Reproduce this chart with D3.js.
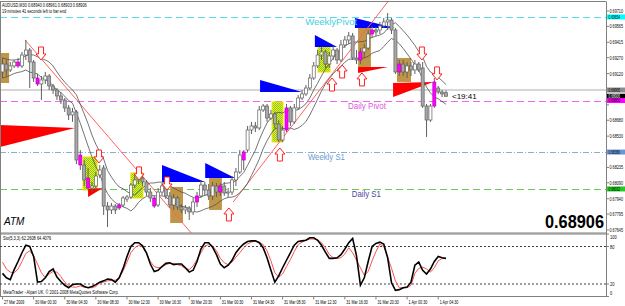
<!DOCTYPE html>
<html>
<head>
<meta charset="utf-8">
<script src="https://cdn.jsdelivr.net/npm/d3@7"></script>
<style>
  body { margin: 0; background: #fff; }
  svg { display: block; font-family: "Liberation Sans", Arial, sans-serif; }
</style>
</head>
<body>
<svg id="chart" width="625" height="306"></svg>
<script>
// AUDUSD M30 candles, prices in points (1e-5)
var open = [69135,69210,69154,69192,69229,69192,69295,69342,69229,69078,
  69022,69060,69097,69003,68965,68909,68871,68796,68730,68758,
  68352,68258,68135,68041,68060,68164,68230,67871,67834,67871,
  67853,67881,67937,67956,68069,68117,68135,68098,68003,67947,
  67881,68003,68060,67966,67881,67947,67862,67834,67853,67815,
  67909,67966,68069,68022,67966,68060,68003,68060,67994,68003,
  68117,68192,68305,68399,68588,68626,68607,68777,68814,68701,
  68739,68645,68494,68588,68796,68664,68796,68890,68928,68984,
  69078,69192,69295,69324,69210,69286,69342,69248,69390,69437,
  69475,69267,69248,69324,69361,69493,69531,69531,69569,69607,
  69625,69531,69135,69210,69135,69192,69154,69210,69173,68814,
  68682,68814,68984,68946,68940];
var high = [69267,69248,69229,69248,69267,69324,69437,69361,69248,69116,
  69097,69135,69116,69022,68984,68946,68890,68824,68796,68777,
  68399,68305,68230,68098,68192,68258,68258,67909,67900,67890,
  67900,67966,67975,68088,68173,68183,68164,68117,68041,67966,
  68041,68088,68079,68003,67985,67966,67890,67881,67871,67947,
  68003,68117,68098,68079,68098,68088,68088,68098,68041,68154,
  68230,68399,68399,68626,68664,68664,68814,68833,68833,68777,
  68758,68682,68626,68833,68814,68833,68918,68965,69012,69116,
  69229,69342,69371,69342,69324,69380,69361,69437,69475,69512,
  69503,69342,69361,69399,69531,69569,69559,69607,69644,69691,
  69644,69550,69248,69248,69229,69229,69248,69229,69229,68833,
  68833,69078,69003,68965,68961];
var low = [69078,69097,69135,69173,69173,69173,69248,68984,69041,69003,
  68871,69022,68965,68928,68871,68833,68758,68682,68664,68267,
  68211,68060,68022,68003,68022,68135,67787,67673,67796,67796,
  67834,67862,67909,67937,68041,68079,68060,67966,67909,67853,
  67862,67975,67937,67853,67834,67834,67805,67796,67739,67787,
  67862,67947,67966,67928,67928,67956,67966,67966,67956,67975,
  68060,68173,68211,68381,68550,68569,68588,68758,68664,68682,
  68607,68475,68475,68569,68626,68645,68777,68871,68909,68965,
  69060,69173,69248,69173,69173,69248,69210,69229,69361,69399,
  69248,69210,69210,69267,69342,69456,69475,69493,69550,69531,
  69493,69116,69097,69097,69078,69097,69116,69135,68796,68522,
  68664,68796,68928,68899,68903];
var close = [69210,69154,69192,69229,69192,69295,69342,69229,69078,69022,
  69060,69097,69003,68965,68909,68871,68796,68730,68758,68305,
  68258,68117,68041,68060,68154,68211,67871,67834,67871,67834,
  67881,67947,67956,68069,68117,68145,68098,68003,67947,67871,
  68003,68060,67966,67881,67947,67862,67834,67853,67815,67909,
  67966,68069,68022,67966,68060,68003,68060,67994,68003,68117,
  68192,68352,68381,68588,68626,68607,68777,68814,68701,68739,
  68645,68494,68588,68796,68664,68796,68890,68928,68984,69078,
  69192,69295,69324,69210,69286,69342,69248,69390,69437,69475,
  69267,69248,69324,69361,69493,69531,69512,69569,69607,69625,
  69531,69135,69210,69135,69192,69154,69210,69154,68814,68682,
  68814,69041,68946,68928,68906];
// bars painted magenta by the signal indicator
var magentaBars = [4, 9, 20, 22, 30, 39, 50, 56, 62, 73, 92, 95, 102, 111];

// Stochastic(5,3,3)
var stochMain = [37,30,27,43,56,70,82,80,64,23,
  24,30,40,44,31,24,18,14,19,20,
  20,16,14,16,19,23,25,28,27,23,
  30,45,64,80,86,86,81,70,52,40,
  42,48,53,54,51,52,52,46,39,42,
  56,76,86,86,79,67,52,46,50,58,
  70,78,84,88,89,89,86,78,62,42,
  23,33,46,58,70,82,88,89,90,94,
  94,90,82,71,61,61,62,67,76,86,
  93,65,18,30,56,80,85,87,84,62,
  22,10,11,14,15,23,50,55,42,36,
  44,56,64,62,61];
var stochSignal = [55,44,39,38,44,56,69,73,65,52,
  38,30,36,40,39,32,23,17,15,15,
  17,15,14,14,16,22,23,25,26,26,
  30,41,55,70,78,82,79,69,56,48,
  46,47,51,53,53,51,49,45,43,49,
  59,70,81,83,81,73,61,54,51,55,
  63,70,78,84,87,89,87,83,73,57,
  38,31,36,48,59,72,83,87,90,92,
  92,91,86,78,67,62,61,62,68,78,
  70,58,46,34,40,57,72,84,80,63,
  45,25,14,14,14,18,37,45,47,44,
  39,46,57,61,61];

var timeLabels = ["27 Mar 2009", "30 Mar 00:30", "30 Mar 04:30", "30 Mar 08:30", "30 Mar 12:30",
  "30 Mar 16:30", "30 Mar 20:30", "31 Mar 00:30", "31 Mar 04:30", "31 Mar 08:30",
  "31 Mar 12:30", "31 Mar 16:30", "31 Mar 20:30", "1 Apr 00:30", "1 Apr 04:30"];
var priceTicks = [69710, 69565, 69415, 69270, 69120, 68975, 68825, 68680, 68530, 68385,
  68235, 68090, 67940, 67795, 67645];
var stochTicks = [100, 80, 20, 0];

// pivot levels
var levelNames = ["WeeklyPivot", "Daily Pivot", "Weekly S1", "Daily S1"];
var levelPrices = [69654, 68866, 68380, 68032];
var askPrice = 68965, bidPrice = 68906;

// zone boxes: [firstBar, lastBar, top, bottom]
var brownBoxes = [[-0.6, 1.7, 69314, 69031], [43.1, 46.4, 68051, 67711], [53.1, 56.4, 68135, 67834],
  [91.4, 94.7, 69559, 69182], [101.4, 105.0, 69267, 69041]];
var greenBoxes = [[20.7, 24.3, 68333, 68022], [33.0, 36.1, 68183, 67947], [69.3, 72.1, 68852, 68475],
  [81.1, 84.2, 69371, 69135]];
// red wedges: [startBar, endBar, top, tip, bottom]
var redWedges = [[-0.7, 18.6, 68635, 68607, 68428], [22.0, 25.8, 68032, 68041, 67956],
  [91.4, 99.1, 69182, 69182, 69126], [100.4, 110.7, 69031, 69041, 68899]];
// blue wedges: [startBar, endBar, top, bottom]
var blueWedges = [[41.0, 52.1, 68258, 68098], [52.1, 59.8, 68277, 68135], [66.2, 77.0, 69060, 68946],
  [80.3, 86.0, 69484, 69371], [90.6, 100.9, 69644, 69550]];
// arrows: [bar, tip price]
var downArrows = [[9.9, 69248], [24.8, 68277], [35.1, 68117], [42.3, 68022], [107.8, 69248], [111.7, 69060]];
var upArrows = [[58.2, 67853], [71.3, 68418], [84.7, 69078], [87.3, 69201], [92.4, 69126]];
// trend lines: [bar1, price1, bar2, price2]
var trendLines = [[5.8, 69437, 48.5, 67617], [59.3, 67909, 99.4, 69814]];

var svg = d3.select("#chart");
var plotRight = 606, mainTop = 2, mainBottom = 233, stoTop = 234, stoBottom = 296.5;

var x = d3.scaleLinear().domain([0, 114]).range([2.5, 446]);
var y = d3.scaleLinear().domain([67645, 69710]).range([230, 11]);
var ys = d3.scaleLinear().domain([0, 100]).range([stoBottom, stoTop]);
var fmt = function(p) { return (p / 100000).toFixed(5); };

// the terminal's small font is narrow, squeeze the tiny labels
function narrow(sel, k) {
  sel.each(function() {
    var w = this.getComputedTextLength();
    d3.select(this).attr("textLength", w * k).attr("lengthAdjust", "spacingAndGlyphs");
  });
}

var defs = svg.append("defs");
defs.append("clipPath").attr("id", "mainClip").append("rect")
  .attr("x", 0).attr("y", mainTop).attr("width", plotRight).attr("height", mainBottom - mainTop);
var pat = defs.append("pattern").attr("id", "hatch").attr("width", 2).attr("height", 2)
  .attr("patternUnits", "userSpaceOnUse");
pat.append("rect").attr("width", 2).attr("height", 2).attr("fill", "#f4f000");
pat.append("rect").attr("width", 1).attr("height", 1).attr("fill", "#7cc840");
pat.append("rect").attr("x", 1).attr("y", 1).attr("width", 1).attr("height", 1).attr("fill", "#7cc840");

svg.append("rect").attr("width", 625).attr("height", 306).attr("fill", "#fff");

var main = svg.append("g").attr("clip-path", "url(#mainClip)");

// level lines
var levelColors = ["#55dde8", "#ee66ee", "#8aaed0", "#66cc55"];
var levelDash = ["7,4", "7,4", "6,2,1,2", "7,4"];
main.selectAll("line.level").data(levelPrices).enter().append("line")
  .attr("x1", 0).attr("x2", plotRight)
  .attr("y1", function(d) { return Math.round(y(d)) + 0.5; })
  .attr("y2", function(d) { return Math.round(y(d)) + 0.5; })
  .attr("stroke", function(d, i) { return levelColors[i]; })
  .attr("stroke-dasharray", function(d, i) { return levelDash[i]; });
main.append("line").attr("x1", 0).attr("x2", plotRight)
  .attr("y1", y(askPrice)).attr("y2", y(askPrice))
  .attr("stroke", "#c8c8c8").attr("stroke-width", 1.5);

// boxes
main.selectAll("rect.brown").data(brownBoxes).enter().append("rect")
  .attr("x", function(d) { return x(d[0]); })
  .attr("width", function(d) { return x(d[1]) - x(d[0]); })
  .attr("y", function(d) { return y(d[2]); })
  .attr("height", function(d) { return y(d[3]) - y(d[2]); })
  .attr("fill", "#bf9648");
main.selectAll("rect.green").data(greenBoxes).enter().append("rect")
  .attr("x", function(d) { return x(d[0]); })
  .attr("width", function(d) { return x(d[1]) - x(d[0]); })
  .attr("y", function(d) { return y(d[2]); })
  .attr("height", function(d) { return y(d[3]) - y(d[2]); })
  .attr("fill", "url(#hatch)").attr("stroke", "#f0e000");

// wedges
main.selectAll("path.red").data(redWedges).enter().append("path")
  .attr("d", function(d) {
    return "M" + x(d[0]) + "," + y(d[2]) + "L" + x(d[1]) + "," + y(d[3]) + "L" + x(d[0]) + "," + y(d[4]) + "Z";
  })
  .attr("fill", "#ff0000");
main.selectAll("path.blue").data(blueWedges).enter().append("path")
  .attr("d", function(d) {
    return "M" + x(d[0]) + "," + y(d[2]) + "L" + x(d[1]) + "," + y(d[3]) + "L" + x(d[0]) + "," + y(d[3]) + "Z";
  })
  .attr("fill", "#0000ff");

// trend lines
main.selectAll("line.trend").data(trendLines).enter().append("line")
  .attr("x1", function(d) { return x(d[0]); }).attr("y1", function(d) { return y(d[1]); })
  .attr("x2", function(d) { return x(d[2]); }).attr("y2", function(d) { return y(d[3]); })
  .attr("stroke", "#ff6060").attr("stroke-width", 1);

// moving averages of highs and lows
function sma(arr, n) {
  return arr.map(function(v, i) { return d3.mean(arr.slice(Math.max(0, i - n + 1), i + 1)); });
}
var maLine = d3.line().x(function(d, i) { return x(i); }).y(function(d) { return y(d); });
[sma(high, 8), sma(low, 8)].forEach(function(s) {
  main.append("path").attr("d", maLine(s)).attr("fill", "none").attr("stroke", "#505050").attr("stroke-width", 0.8);
});

// candles
var bars = d3.range(close.length).map(function(i) {
  return { i: i, o: open[i], h: high[i], l: low[i], c: close[i], m: magentaBars.indexOf(i) >= 0 };
});
var cg = main.append("g");
cg.selectAll("line").data(bars).enter().append("line")
  .attr("x1", function(d) { return x(d.i); }).attr("x2", function(d) { return x(d.i); })
  .attr("y1", function(d) { return y(d.h); }).attr("y2", function(d) { return y(d.l); })
  .attr("stroke", "#606060").attr("stroke-width", 1);
cg.selectAll("rect").data(bars).enter().append("rect")
  .attr("x", function(d) { return x(d.i) - 1.5; }).attr("width", 3)
  .attr("y", function(d) { return y(Math.max(d.o, d.c)); })
  .attr("height", function(d) { return Math.max(1, Math.abs(y(d.o) - y(d.c))); })
  .attr("fill", function(d) { return d.m ? "#ff00ff" : (d.c >= d.o ? "#ffffff" : "#a8a8a8"); })
  .attr("stroke", function(d) { return d.m ? "#c000c0" : "#606060"; }).attr("stroke-width", 0.7);

// hollow arrows
function arrow(cx, ty, dir) {
  var s = dir; // 1 = down (tip at bottom), -1 = up
  var p = [[cx - 2.5, ty - 13 * s], [cx + 2.5, ty - 13 * s], [cx + 2.5, ty - 6 * s], [cx + 5, ty - 6 * s],
    [cx, ty], [cx - 5, ty - 6 * s], [cx - 2.5, ty - 6 * s]];
  return "M" + p.map(function(q) { return q[0] + "," + q[1]; }).join("L") + "Z";
}
main.selectAll("path.dn").data(downArrows).enter().append("path")
  .attr("d", function(d) { return arrow(x(d[0]), y(d[1]), 1); })
  .attr("fill", "#fff").attr("stroke", "#ff2020").attr("stroke-width", 1);
main.selectAll("path.up").data(upArrows).enter().append("path")
  .attr("d", function(d) { return arrow(x(d[0]), y(d[1]), -1); })
  .attr("fill", "#fff").attr("stroke", "#ff2020").attr("stroke-width", 1);

// level captions
var levelTextColors = ["#3fd2e0", "#e055e0", "#6d9bd0", "#4a4aa0"];
var levelTextBar = [77.8, 88.8, 78.5, 89.8];
var levelTextWidth = [52, 38, 37, 29];
main.selectAll("text.lvl").data(levelNames).enter().append("text")
  .attr("x", function(d, i) { return x(levelTextBar[i]); })
  .attr("y", function(d, i) { return y(levelPrices[i]) + 8; })
  .attr("font-size", 9).attr("fill", function(d, i) { return levelTextColors[i]; })
  .attr("textLength", function(d, i) { return levelTextWidth[i]; })
  .attr("lengthAdjust", "spacingAndGlyphs")
  .text(function(d) { return d; });

main.append("text").attr("x", x(114) + 6).attr("y", y(bidPrice) + 3)
  .attr("font-size", 8).attr("fill", "#000").text("<19:41");
main.append("text").attr("x", 4).attr("y", 225).attr("font-size", 10).attr("font-style", "italic")
  .attr("fill", "#000").text("ATM");
main.append("text").attr("x", 604).attr("y", 228).attr("text-anchor", "end")
  .attr("font-size", 18).attr("font-weight", "bold").attr("fill", "#000")
  .attr("textLength", 59).attr("lengthAdjust", "spacingAndGlyphs").text(fmt(bidPrice));

// info text
var info = svg.append("g");
info.append("text").attr("x", 2).attr("y", 6.5).attr("font-size", 5.5).attr("fill", "#000")
  .text("AUDUSD,M30  " + [open[114], high[114], low[114], close[114]].map(fmt).join(" "));
info.append("text").attr("x", 2).attr("y", 12.5).attr("font-size", 5.5).attr("fill", "#000")
  .text("19 minutes 41 seconds left to bar end");
narrow(info.selectAll("text"), 0.7);

// frames
svg.append("line").attr("x1", 0).attr("x2", plotRight).attr("y1", 1.5).attr("y2", 1.5).attr("stroke", "#808080");
svg.append("line").attr("x1", 0.5).attr("x2", 0.5).attr("y1", 1.5).attr("y2", stoBottom).attr("stroke", "#808080");
svg.append("line").attr("x1", 0).attr("x2", plotRight).attr("y1", mainBottom).attr("y2", mainBottom).attr("stroke", "#808080");
svg.append("line").attr("x1", 0).attr("x2", plotRight).attr("y1", stoTop).attr("y2", stoTop).attr("stroke", "#808080");
svg.append("line").attr("x1", 0).attr("x2", plotRight).attr("y1", stoBottom).attr("y2", stoBottom).attr("stroke", "#808080");
svg.append("line").attr("x1", plotRight + 0.5).attr("x2", plotRight + 0.5).attr("y1", 1.5).attr("y2", stoBottom).attr("stroke", "#808080");

// price boxes on axis (they cover the regular tick labels they sit on)
var boxPrices = [levelPrices[0], askPrice, bidPrice, levelPrices[1], levelPrices[2], levelPrices[3]];
var boxFill = ["#00ffff", "#8c8c8c", "#000000", "#ff00ff", "#6a96d8", "#22cc22"];
var boxText = ["#000", "#000", "#fff", "#000", "#000", "#000"];
var freeTicks = priceTicks.filter(function(t) {
  return boxPrices.every(function(b) { return Math.abs(y(b) - y(t)) > 5; });
});

// price axis
var pa = svg.append("g");
pa.selectAll("line").data(priceTicks).enter().append("line")
  .attr("x1", plotRight).attr("x2", plotRight + 3)
  .attr("y1", function(d) { return y(d); }).attr("y2", function(d) { return y(d); }).attr("stroke", "#808080");
pa.selectAll("text").data(freeTicks).enter().append("text")
  .attr("x", plotRight + 3.5).attr("y", function(d) { return y(d) + 2; })
  .attr("font-size", 4.8).attr("fill", "#000").text(fmt);
narrow(pa.selectAll("text"), 0.78);

var pb = svg.append("g");
pb.selectAll("rect").data(boxPrices).enter().append("rect")
  .attr("x", plotRight + 1).attr("width", 18)
  .attr("y", function(d) { return y(d) - 2.5; }).attr("height", 5)
  .attr("fill", function(d, i) { return boxFill[i]; });
pb.selectAll("text").data(boxPrices).enter().append("text")
  .attr("x", plotRight + 2.5).attr("y", function(d) { return y(d) + 1.8; })
  .attr("font-size", 4.6).attr("fill", function(d, i) { return boxText[i]; }).text(fmt);
narrow(pb.selectAll("text"), 0.7);

// stochastic pane
var sg = svg.append("g");
sg.selectAll("line.lvl").data([80, 20]).enter().append("line")
  .attr("x1", 0).attr("x2", plotRight)
  .attr("y1", function(d) { return ys(d); }).attr("y2", function(d) { return ys(d); })
  .attr("stroke", "#404040").attr("stroke-dasharray", "2,2");
var sline = d3.line().x(function(d, i) { return x(i); }).y(function(d) { return ys(d); });
sg.append("path").attr("d", sline(stochSignal)).attr("fill", "none").attr("stroke", "#ff5050").attr("stroke-width", 1);
sg.append("path").attr("d", sline(stochMain)).attr("fill", "none").attr("stroke", "#000").attr("stroke-width", 1.6);
var st = sg.append("g");
st.append("text").attr("x", 3).attr("y", 239.5).attr("font-size", 5.5).attr("fill", "#000")
  .text("Sto(5,3,3) 62.2608 64.4076");
st.append("text").attr("x", 3).attr("y", 294).attr("font-size", 5.5).attr("fill", "#000")
  .text("MetaTrader - Alpari UK, \u00a9 2001-2008 MetaQuotes Software Corp.");
narrow(st.selectAll("text"), 0.72);
sg.selectAll("line.tk").data(stochTicks).enter().append("line")
  .attr("x1", plotRight).attr("x2", plotRight + 3)
  .attr("y1", function(d) { return ys(d); }).attr("y2", function(d) { return ys(d); }).attr("stroke", "#808080");
var stk = sg.append("g");
stk.selectAll("text").data(stochTicks).enter().append("text")
  .attr("x", plotRight + 4)
  .attr("y", function(d) { return Math.min(295, Math.max(239, ys(d) + 2)); })
  .attr("font-size", 5.5).attr("fill", "#000").text(function(d) { return d; });
narrow(stk.selectAll("text"), 0.72);

// time axis
var ta = svg.append("g");
ta.selectAll("line").data(timeLabels).enter().append("line")
  .attr("x1", function(d, i) { return x(i * 8); }).attr("x2", function(d, i) { return x(i * 8); })
  .attr("y1", stoBottom).attr("y2", stoBottom + 3).attr("stroke", "#808080");
ta.selectAll("text").data(timeLabels).enter().append("text")
  .attr("x", function(d, i) { return x(i * 8) + 1.5; }).attr("y", 303.5)
  .attr("font-size", 5.5).attr("fill", "#000").text(function(d) { return d; });
narrow(ta.selectAll("text"), 0.66);
</script>
</body>
</html>
